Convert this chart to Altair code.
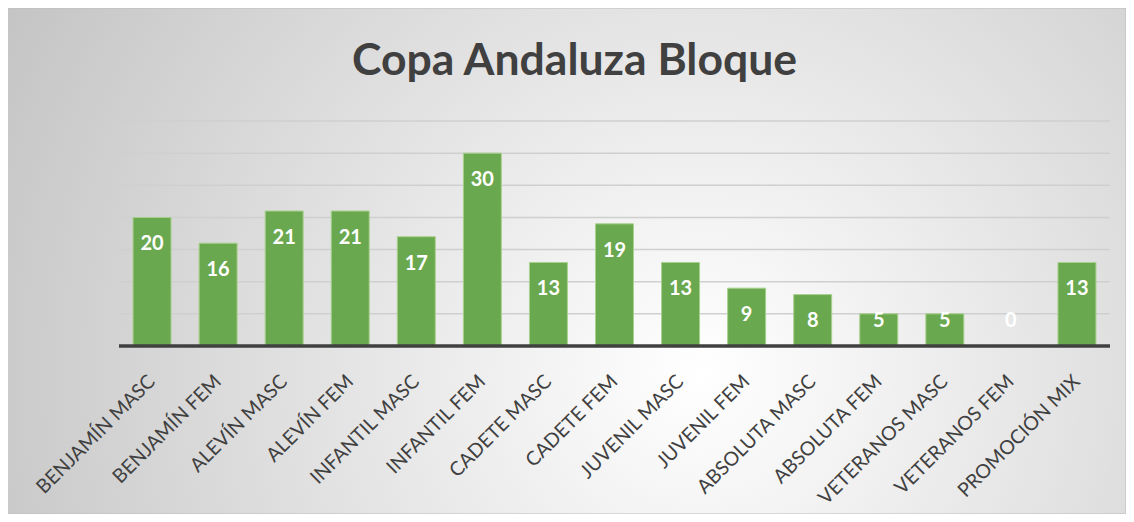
import altair as alt
import pandas as pd

title_text = "Copa Andaluza Bloque"
categories = ["BENJAMÍN MASC", "BENJAMÍN FEM", "ALEVÍN MASC", "ALEVÍN FEM", "INFANTIL MASC",
              "INFANTIL FEM", "CADETE MASC", "CADETE FEM", "JUVENIL MASC", "JUVENIL FEM",
              "ABSOLUTA MASC", "ABSOLUTA FEM", "VETERANOS MASC", "VETERANOS FEM", "PROMOCIÓN MIX"]
values = [20, 16, 21, 21, 17, 30, 13, 19, 13, 9, 8, 5, 5, 0, 13]
grid_values = [5, 10, 15, 20, 25, 30, 35]

W, H = 991, 225
PL, PT, PR, PB = 111, 113, 16, 168

df = pd.DataFrame({"cat": categories, "v": values})
grid_df = pd.DataFrame({"g": grid_values})
zero_df = pd.DataFrame({"g": [0]})
title_df = pd.DataFrame({"t": [title_text]})

yscale = alt.Scale(domain=[0, 35])
xscale = alt.Scale(paddingInner=0.425, paddingOuter=0.2125)

bg = alt.Chart(zero_df).mark_rect(
    color=alt.RadialGradient(
        gradient="radial",
        stops=[alt.GradientStop(offset=0, color="#ffffff"),
               alt.GradientStop(offset=1, color="#c0c0c0")],
        x1=0.62, y1=0.6, r1=0.0, x2=0.62, y2=0.6, r2=0.75),
    stroke="#bdbdbd", strokeWidth=1
).encode(
    x=alt.value(-PL - 1), x2=alt.value(W + PR),
    y=alt.value(-PT), y2=alt.value(H + PB)
)

title = alt.Chart(title_df).mark_text(
    font="Lato", fontSize=44.5, fontWeight="bold", color="#404040",
    align="center", baseline="alphabetic"
).encode(
    text="t:N", x=alt.value(574.5 - PL - 8), y=alt.value(75 - PT - 8)
)

grid = alt.Chart(grid_df).mark_rule(color="#cfcfcf", strokeWidth=1.5).encode(
    y=alt.Y("g:Q", scale=yscale, axis=None),
    x=alt.value(0), x2=alt.value(W)
)

bars = alt.Chart(df).mark_bar(color="#6aa84f", stroke="#a9d18e", strokeWidth=1, opacity=1).encode(
    x=alt.X("cat:N", sort=categories, scale=xscale, title=None,
            axis=alt.Axis(labelAngle=-45, labelAlign="right", labelBaseline="middle",
                          labelPadding=32, labelFontSize=19.5, labelFont="Lato",
                          labelColor="#404040", domain=False, ticks=False, zindex=1,
                          labelOverlap=False, labelLimit=400)),
    y=alt.Y("v:Q", scale=yscale, axis=None)
)

baseline = alt.Chart(zero_df).mark_rule(color="#404040", strokeWidth=3.5).encode(
    y=alt.Y("g:Q", scale=yscale, axis=None),
    x=alt.value(0), x2=alt.value(W)
)

labels = alt.Chart(df).transform_calculate(
    pos="max(datum.v - 4.2, 3.9)"
).mark_text(color="white", font="Lato", fontWeight="bold", fontSize=20, baseline="middle").encode(
    x=alt.X("cat:N", sort=categories, scale=xscale),
    y=alt.Y("pos:Q", scale=yscale, axis=None),
    text=alt.Text("v:Q")
)

chart = alt.layer(bg, title, grid, bars, baseline, labels).properties(
    width=W, height=H,
    autosize=alt.AutoSizeParams(type="none"),
    padding={"left": PL, "top": PT, "right": PR, "bottom": PB},
    background="white"
).configure_view(stroke=None)

chart.save("out.html", embed_options={"renderer": "svg", "actions": False})
